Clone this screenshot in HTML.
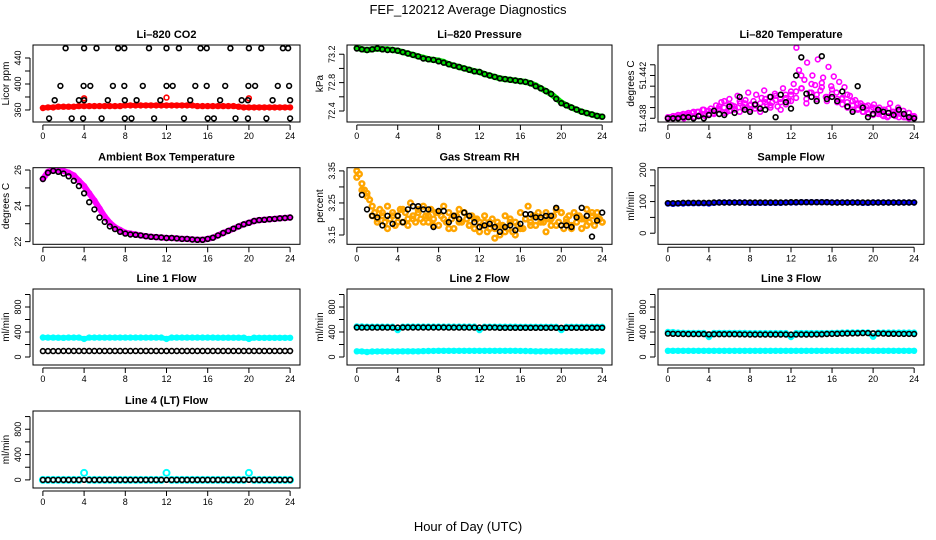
<!DOCTYPE html>
<html><head><meta charset="utf-8"><style>
html,body{margin:0;padding:0;background:#fff}
svg{display:block;font-family:"Liberation Sans",sans-serif}
</style></head><body>
<svg id="c" width="936" height="540" viewBox="0 0 936 540">
<text x="468" y="14" text-anchor="middle" font-size="13">FEF_120212  Average Diagnostics</text>
<text x="468" y="531" text-anchor="middle" font-size="13">Hour of Day (UTC)</text>
</svg>
<script>
// ---------- data ----------
const xTicks = [0,4,8,12,16,20,24];
const co2BlackHours = [2.2,4.0,5.2,7.3,7.9,10.3,12.0,13.2,15.3,15.9,18.2,20.0,21.2,23.3,23.8,
 1.7,3.95,4.6,6.8,7.9,9.7,12.0,12.6,14.8,15.9,17.7,19.95,20.6,22.8,23.9,
 1.15,3.5,4.0,6.3,7.95,9.1,11.4,14.3,17.2,19.3,19.9,22.3,24.0,
 0.6,2.8,3.9,5.7,7.95,8.6,10.8,13.7,16.0,16.6,18.7,19.9,21.7,24.0];
const co2BlackValues = [455,455,455,455,455,455,455,455,455,455,455,455,455,455,455,
 397,397,397,397,397,397,397,397,397,397,397,397,397,397,397,
 375,375,375,375,375,375,375,375,375,375,375,375,375,
 347,347,347,347,347,347,347,347,347,347,347,347,347,347];
const co2Red = [363,364,364,365,365,365,365,366,366,366,366,366,366,366,366,366,367,367,367,367,367,367,367,367,367,367,367,367,367,367,366,366,366,366,366,366,366,366,365,364,364,364,364,364,364,364,364,364,364];
const co2RedOutHours = [4,12,20];
const co2RedOutValues = [378,379,378];
const pressGreen = [73.29,73.27,73.26,73.27,73.28,73.27,73.27,73.26,73.25,73.23,73.21,73.19,73.17,73.15,73.13,73.12,73.11,73.09,73.06,73.04,73.02,73.00,72.98,72.96,72.95,72.92,72.90,72.88,72.86,72.85,72.84,72.83,72.82,72.81,72.79,72.76,72.72,72.68,72.64,72.58,72.52,72.48,72.45,72.42,72.39,72.37,72.35,72.33,72.32];
const pressBlack = [73.28,73.27,73.26,73.27,73.28,73.27,73.26,73.26,73.25,73.23,73.21,73.19,73.17,73.14,73.13,73.12,73.10,73.08,73.06,73.04,73.02,73.00,72.98,72.96,72.95,72.92,72.90,72.88,72.86,72.85,72.84,72.83,72.82,72.81,72.79,72.75,72.72,72.68,72.64,72.57,72.51,72.48,72.45,72.42,72.39,72.37,72.35,72.33,72.32];
const litMagA = [51.4380,51.4381,51.4380,51.4382,51.4381,51.4383,51.4380,51.4384,51.4382,51.4385,51.4381,51.4386,51.4383,51.4388,51.4382,51.4387,51.4389,
 51.4385,51.4392,51.4388,51.4395,51.4390,51.4386,51.4398,51.4392,51.4389,51.4401,51.4394,51.4391,51.4397,51.4404,51.4393,
 51.4396,51.4402,51.4390,51.4399,51.4406,51.4393,51.4400,51.4395,51.4403,51.4391,51.4398,51.4408,51.4402,51.4396,51.4405,
 51.4412,51.4446,51.4425,51.4408,51.4416,51.4432,51.4404,51.4420,51.4411,51.4435,51.4406,51.4418,51.4400,51.4428,51.4410,
 51.4419,51.4404,51.4414,51.4398,51.4409,51.4395,51.4401,51.4392,51.4397,51.4389,51.4394,51.4386,51.4391,51.4384,51.4388,
 51.4393,51.4385,51.4390,51.4383,51.4388,51.4381,51.4394,51.4386,51.4382,51.4390,51.4384,51.4387,51.4381,51.4385,51.4382,51.4380];
const litMagB = [51.4380,51.4382,51.4381,51.4384,51.4383,51.4386,51.4382,51.4388,51.4384,
 51.4387,51.4391,51.4385,51.4393,51.4388,51.4396,51.4390,51.4392,
 51.4389,51.4394,51.4398,51.4392,51.4401,51.4395,51.4399,51.4402,
 51.4405,51.4420,51.4398,51.4412,51.4402,51.4409,51.4396,51.4403,
 51.4395,51.4399,51.4390,51.4396,51.4388,51.4392,51.4385,51.4390,
 51.4384,51.4388,51.4382,51.4386,51.4381,51.4384,51.4380,51.4382];
const litMagC = [51.4381,51.4380,51.4383,51.4382,51.4385,51.4381,51.4386,51.4383,51.4387,
 51.4384,51.4389,51.4396,51.4387,51.4391,51.4386,51.4394,51.4388,
 51.4392,51.4386,51.4395,51.4390,51.4397,51.4388,51.4393,51.4396,
 51.4399,51.4408,51.4394,51.4404,51.4398,51.4413,51.4400,51.4407,
 51.4398,51.4393,51.4402,51.4388,51.4394,51.4386,51.4392,51.4383,
 51.4387,51.4382,51.4389,51.4384,51.4387,51.4381,51.4385,51.4381];
const litBlack = [51.4380,51.4380,51.4380,51.4381,51.4381,51.4380,51.4382,51.4380,51.4383,
 51.4387,51.4384,51.4383,51.4391,51.4385,51.4400,51.4388,51.4386,
 51.4393,51.4389,51.4388,51.4400,51.4381,51.4402,51.4395,51.4389,
 51.4420,51.4437,51.4403,51.4400,51.4396,51.4438,51.4398,51.4400,
 51.4396,51.4405,51.4391,51.4386,51.4410,51.4390,51.4381,51.4384,
 51.4388,51.4386,51.4385,51.4383,51.4388,51.4384,51.4381,51.4380];
const ambMagenta = [25.5,25.9,26.0,26.0,25.95,25.85,25.7,25.4,25.1,24.7,24.3,23.85,23.4,23.05,22.8,22.65,22.5,22.45,22.4,22.35,22.3,22.27,22.25,22.23,22.2,22.2,22.18,22.15,22.15,22.12,22.1,22.1,22.15,22.22,22.35,22.48,22.6,22.72,22.85,22.97,23.05,23.15,23.2,23.22,23.25,23.27,23.3,23.32,23.35];
const ambBlack = [25.5,25.85,25.95,25.9,25.8,25.65,25.4,25.1,24.7,24.2,23.8,23.35,23.1,22.85,22.7,22.55,22.45,22.4,22.38,22.35,22.3,22.27,22.25,22.23,22.2,22.2,22.18,22.15,22.15,22.12,22.1,22.1,22.15,22.22,22.35,22.48,22.6,22.72,22.85,22.97,23.05,23.15,23.2,23.22,23.25,23.27,23.3,23.32,23.35];
const rhOrangeA = [3.35,3.34,3.31,3.29,3.28,3.26,3.24,
 3.22,3.20,3.23,3.21,3.19,3.24,3.20,3.22,3.18,3.21,3.23,3.19,3.22,3.20,3.25,3.21,3.19,3.23,
 3.20,3.24,3.21,3.19,3.23,3.20,3.22,3.18,3.21,3.24,3.19,3.22,3.20,3.17,3.21,3.23,3.19,3.22,3.20,3.18,3.21,3.17,3.20,3.19,
 3.18,3.21,3.16,3.19,3.20,3.17,3.19,3.15,3.18,3.21,3.17,3.20,3.16,3.19,3.18,3.22,3.17,3.20,3.24,3.19,3.21,3.18,3.22,3.20,
 3.19,3.22,3.20,3.18,3.21,3.23,3.19,3.22,3.17,3.20,3.21,3.18,3.22,3.19,3.21,3.17,3.20,3.23,3.19,3.21,3.18,3.22,3.20,3.19];
const rhOrangeB = [3.33,3.29,3.27,3.21,3.19,3.22,3.17,3.21,3.19,3.23,3.18,3.20,3.22,3.19,3.21,3.18,3.22,3.20,3.17,3.21,3.19,3.22,3.18,3.20,3.16,3.19,3.17,3.14,3.18,3.16,3.19,3.15,3.17,3.20,3.18,3.21,3.19,3.16,3.20,3.18,3.22,3.19,3.17,3.21,3.20,3.18,3.22,3.20,3.19];
const rhBlackHours = [0.5,1,1.5,2,2.5,3,3.5,4,4.5,5,5.5,6,6.5,7,7.5,8,8.5,9,9.5,10,10.5,11,11.5,12,12.5,13,13.5,14,14.5,15,15.5,16,16.5,17,17.5,18,18.5,19,19.5,20,20.5,21,21.5,22,22.5,23,23.5,24];
const rhBlack = [3.275,3.23,3.21,3.205,3.18,3.21,3.185,3.21,3.19,3.23,3.24,3.24,3.23,3.23,3.175,3.225,3.225,3.19,3.21,3.20,3.22,3.21,3.19,3.175,3.18,3.185,3.175,3.16,3.175,3.18,3.165,3.185,3.215,3.215,3.205,3.205,3.21,3.21,3.235,3.18,3.18,3.175,3.205,3.235,3.21,3.145,3.195,3.22];
const sampleBlue = [94,93,94,94,95,95,95,95,94,96,97,97,97,97,97,97,96,96,96,96,96,96,96,97,97,97,98,98,98,98,98,98,97,97,97,97,97,97,96,96,97,97,97,97,97,97,97,97,97];
const sampleBlack = [95,95,95,96,96,96,96,96,96,97,97,97,97,97,97,97,97,97,97,97,97,97,97,97,98,98,98,98,98,98,98,98,97,97,97,97,97,97,97,97,97,97,97,97,97,97,97,97,97];
const l1Cyan = [312,310,310,309,308,310,310,310,290,310,311,311,311,311,311,311,311,311,311,311,311,311,311,311,290,310,310,310,310,310,310,310,310,310,309,309,309,309,309,309,290,309,308,308,308,308,308,308,308];
const l1Black = [95,95,95,95,96,96,96,96,96,96,96,96,96,96,96,96,96,96,96,96,96,96,96,96,96,96,96,96,96,96,96,96,96,96,96,96,96,96,96,96,96,96,96,96,96,96,96,96,96];
const l2CyanHi = [490,488,485,485,485,485,485,485,430,485,486,486,486,486,486,486,486,486,486,486,486,486,486,486,430,485,485,485,485,485,485,485,484,484,484,484,484,484,484,484,430,484,484,484,484,484,484,484,484];
const l2CyanLo = [92,90,80,88,90,90,90,90,90,92,92,92,92,94,96,98,100,100,100,100,100,100,100,100,100,100,100,100,100,100,100,100,98,96,94,92,92,92,92,92,92,92,92,92,92,92,92,92,92];
const l2Black = [472,470,470,470,470,470,470,470,470,472,472,472,472,472,472,472,472,472,470,470,470,470,470,470,470,470,470,470,468,468,468,468,468,468,468,468,468,468,468,468,468,468,468,468,468,468,468,468,468];
const l3CyanHi = [400,398,390,388,386,385,385,385,320,385,385,385,385,385,385,385,382,382,382,382,382,382,382,382,320,382,382,382,382,382,382,382,385,388,390,392,392,392,392,392,325,390,390,390,390,390,390,390,390];
const l3CyanLo = [100,100,100,100,100,100,100,100,100,100,100,100,100,100,100,100,100,100,100,100,100,100,100,100,100,100,100,100,100,100,100,100,100,100,100,100,100,100,100,100,100,100,100,100,100,100,100,100,100];
const l3Black = [375,372,370,368,366,366,366,366,364,365,365,365,365,365,364,362,360,360,360,360,360,360,360,360,358,360,360,360,360,362,364,368,370,372,374,376,378,380,382,382,380,376,374,372,372,370,370,370,368];
const l4Cyan = [0,0,0,0,0,0,0,0,110,0,0,0,0,0,0,0,0,0,0,0,0,0,0,0,110,0,0,0,0,0,0,0,0,0,0,0,0,0,0,0,110,0,0,0,0,0,0,0,0];
const l4Black = [0,0,0,0,0,0,0,0,0,0,0,0,0,0,0,0,0,0,0,0,0,0,0,0,0,0,0,0,0,0,0,0,0,0,0,0,0,0,0,0,0,0,0,0,0,0,0,0,0];
const flowTicks = [0,200,400,600,800,1000];
const flowLabels = [0,400,800];

// ---------- drawing ----------
const svg = document.getElementById('c');
const NS = 'http://www.w3.org/2000/svg';
function mk(tag, attrs, parent){const e=document.createElementNS(NS,tag);for(const k in attrs)e.setAttribute(k,attrs[k]);(parent||svg).appendChild(e);return e;}
const COLS=[[33,300],[347,612],[658,924]];
const ROWS=[[45,122],[167.7,244.3],[289,365],[411,488]];
function gridHours(n){const a=[];for(let i=0;i<n;i++)a.push(i*24/(n-1));return a;}

function panel(p){
  const [x0,x1]=COLS[p.col],[y0,y1]=ROWS[p.row];
  const g=mk('g',{});
  
  
  const sx=h=>x0+(h+0.96)/25.92*(x1-x0);
  const sy=v=>y1-(v-p.ymin)/(p.ymax-p.ymin)*(y1-y0);
  const clip='clip-'+p.name;
  const cp=mk('clipPath',{id:clip},g); mk('rect',{x:x0,y:y0,width:x1-x0,height:y1-y0},cp);
  const pg=mk('g',{'clip-path':'url(#'+clip+')'},g);
  p.series.forEach(s=>{
    const hrs=s.hours||gridHours(s.values.length);
    if(s.band){
      const pts=s.values.map((v,i)=>sx(hrs[i]).toFixed(1)+','+sy(v).toFixed(1)).join(' ');
      const pl=mk('polyline',{points:pts,fill:'none',stroke:s.color,'stroke-width':s.band,'stroke-linejoin':'round','stroke-linecap':'round'},pg);
      
      
    }
    s.values.forEach((v,i)=>{
      const c=mk('circle',{cx:sx(hrs[i]).toFixed(1),cy:sy(v).toFixed(1),r:s.r||2.4,fill:'none',stroke:s.color,'stroke-width':s.sw||1.6},pg);
      
      
    });
  });
  const box=mk('rect',{x:x0,y:y0,width:x1-x0,height:y1-y0,fill:'none',stroke:'#000','stroke-width':1},g);
  
  
  const xa=mk('g',{},g);
  
  
  mk('line',{x1:sx(0),x2:sx(24),y1:y1+3,y2:y1+3,stroke:'#000'},xa);
  xTicks.forEach(t=>{
    mk('line',{x1:sx(t),x2:sx(t),y1:y1+3,y2:y1+8,stroke:'#000'},xa);
    const tx=mk('text',{x:sx(t),y:y1+17,'text-anchor':'middle','font-size':9},xa);
    tx.textContent=t;
  });
  const ya=mk('g',{},g);
  
  
  const yt=p.ticks;
  mk('line',{x1:x0-3,x2:x0-3,y1:sy(yt[0]),y2:sy(yt[yt.length-1]),stroke:'#000'},ya);
  yt.forEach(t=>mk('line',{x1:x0-3,x2:x0-8,y1:sy(t),y2:sy(t),stroke:'#000'},ya));
  p.labels.forEach((t,i)=>{
    const lx=x0-12,ly=sy(t);
    const tx=mk('text',{x:lx,y:ly,'text-anchor':'middle','font-size':9,transform:'rotate(-90 '+lx+' '+ly+')'},ya);
    tx.textContent=p.labelText?p.labelText[i]:t;
  });
  const yl=mk('text',{x:x0-24,y:(y0+y1)/2,'text-anchor':'middle','font-size':10,transform:'rotate(-90 '+(x0-24)+' '+((y0+y1)/2)+')'},g);
  
  
  yl.textContent=p.ylab;
  const ti=mk('text',{x:(x0+x1)/2,y:y0-7,'text-anchor':'middle','font-size':11,'font-weight':'bold'},g);
  
  
  ti.textContent=p.title;
}

panel({name:'co2-panel',title:'Li\u2013820 CO2',ylab:'Licor ppm',row:0,col:0,ymin:341.5,ymax:460,ticks:[360,380,400,420,440],labels:[360,400,440],
  series:[{name:'co2-licor',values:co2Red,color:'#ff0000',band:5},{name:'co2-licor-outlier',values:co2RedOutValues,hours:co2RedOutHours,color:'#ff0000'},{name:'co2-ref',values:co2BlackValues,hours:co2BlackHours,color:'#000'}]});
panel({name:'pressure-panel',title:'Li\u2013820 Pressure',ylab:'kPa',row:0,col:1,ymin:72.245,ymax:73.33,ticks:[72.4,72.6,72.8,73.0,73.2],labels:[72.4,72.8,73.2],labelText:['72.4','72.8','73.2'],
  series:[{name:'pressure-licor',values:pressGreen,color:'#00e000',band:6},{name:'pressure-ref',values:pressBlack,color:'#000'}]});
panel({name:'li-temp-panel',title:'Li\u2013820 Temperature',ylab:'degrees C',row:0,col:2,ymin:51.43765,ymax:51.44485,ticks:[51.438,51.439,51.440,51.441,51.442,51.443],labels:[51.438,51.442],labelText:['51.438','51.442'],
  series:[{name:'li-temp-a',values:litMagA,color:'#ff00ff'},{name:'li-temp-b',values:litMagB,color:'#ff00ff'},{name:'li-temp-c',values:litMagC,color:'#ff00ff'},{name:'li-temp-ref',values:litBlack,color:'#000'}]});
panel({name:'ambient-panel',title:'Ambient Box Temperature',ylab:'degrees C',row:1,col:0,ymin:21.85,ymax:26.13,ticks:[22,23,24,25,26],labels:[22,24,26],
  series:[{name:'ambient-temp',values:ambMagenta,color:'#ff00ff',band:6},{name:'ambient-ref',values:ambBlack,color:'#000'}]});
panel({name:'rh-panel',title:'Gas Stream RH',ylab:'percent',row:1,col:1,ymin:3.121,ymax:3.36,ticks:[3.15,3.20,3.25,3.30,3.35],labels:[3.15,3.25,3.35],labelText:['3.15','3.25','3.35'],
  series:[{name:'rh-a',values:rhOrangeA,color:'#ffa500',sw:2.4},{name:'rh-b',values:rhOrangeB,color:'#ffa500',sw:2.4},{name:'rh-ref',values:rhBlack,hours:rhBlackHours,color:'#000'}]});
panel({name:'sample-flow-panel',title:'Sample Flow',ylab:'ml/min',row:1,col:2,ymin:-35,ymax:207,ticks:[0,50,100,150,200],labels:[0,100,200],
  series:[{name:'sample-flow',values:sampleBlue,color:'#0000ff',band:5},{name:'sample-ref',values:sampleBlack,color:'#000'}]});
panel({name:'line1-panel',title:'Line 1 Flow',ylab:'ml/min',row:2,col:0,ymin:-128,ymax:1088,ticks:flowTicks,labels:flowLabels,
  series:[{name:'line1-cyan',values:l1Cyan,color:'#00ffff',band:5},{name:'line1-ref',values:l1Black,color:'#000'}]});
panel({name:'line2-panel',title:'Line 2 Flow',ylab:'ml/min',row:2,col:1,ymin:-128,ymax:1088,ticks:flowTicks,labels:flowLabels,
  series:[{name:'line2-cyan-hi',values:l2CyanHi,color:'#00ffff',band:5},{name:'line2-cyan-lo',values:l2CyanLo,color:'#00ffff',band:5},{name:'line2-ref',values:l2Black,color:'#000'}]});
panel({name:'line3-panel',title:'Line 3 Flow',ylab:'ml/min',row:2,col:2,ymin:-128,ymax:1088,ticks:flowTicks,labels:flowLabels,
  series:[{name:'line3-cyan-hi',values:l3CyanHi,color:'#00ffff',band:5},{name:'line3-cyan-lo',values:l3CyanLo,color:'#00ffff',band:5},{name:'line3-ref',values:l3Black,color:'#000'}]});
panel({name:'line4-panel',title:'Line 4 (LT) Flow',ylab:'ml/min',row:3,col:0,ymin:-128,ymax:1088,ticks:flowTicks,labels:flowLabels,
  series:[{name:'line4-cyan',values:l4Cyan,color:'#00ffff',r:3,sw:2},{name:'line4-ref',values:l4Black,color:'#000'}]});
</script>
</body></html>
